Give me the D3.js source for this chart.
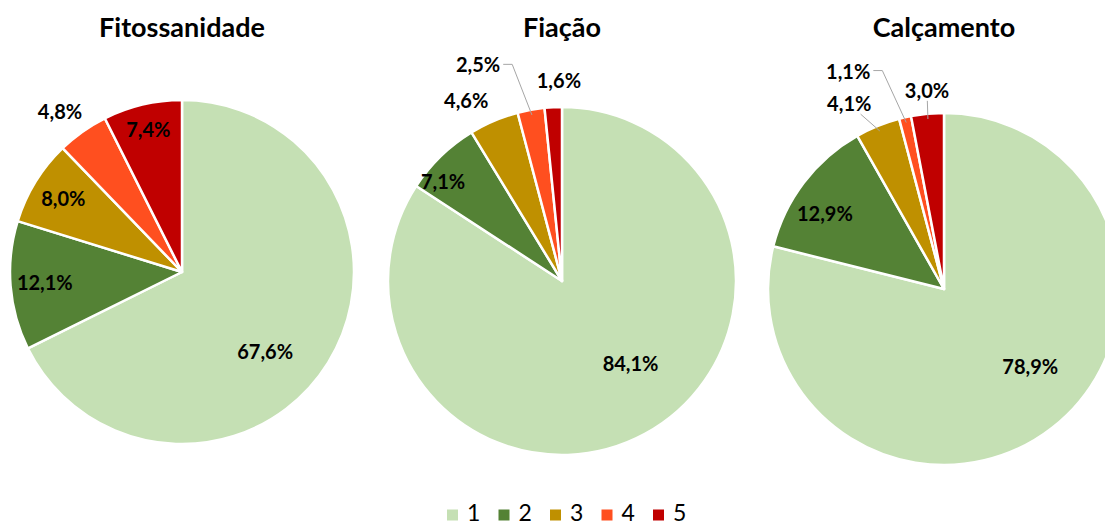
<!DOCTYPE html>
<html>
<head>
<meta charset="utf-8">
<script src="https://cdn.jsdelivr.net/npm/d3@7"></script>
<style>
  body { margin: 0; background: #fff; }
  svg { display: block; font-family: Lato, "Open Sans", sans-serif; }
</style>
</head>
<body>
<div id="chart"></div>
<script>
// data
var categories = ["1", "2", "3", "4", "5"];
var titles = ["Fitossanidade", "Fiação", "Calçamento"];
var fitossanidade = [67.6, 12.1, 8.0, 4.8, 7.4];
var fiacao = [84.1, 7.1, 4.6, 2.5, 1.6];
var calcamento = [78.9, 12.9, 4.1, 1.1, 3.0];
var series = [fitossanidade, fiacao, calcamento];

var colors = ["#c5e0b4", "#548235", "#bf9000", "#ff4f1f", "#c00000"];

// pie placement
var pies = [
  { cx: 182, cy: 272, r: 172 },
  { cx: 562, cy: 281, r: 174 },
  { cx: 944, cy: 289, r: 176 }
];

// label placement: [angle nudge in degrees, radius fraction, leader]
var labelLayout = [
  [[12, 0.67], [0, 0.8], [0, 0.81], [-2, 1.17], [0, 0.85]],
  [[-11, 0.62], [-6, 0.89], [-5, 1.17], [-11, 1.33, "elbow"], [2, 1.15]],
  [[-10, 0.66], [-5, 0.8], [-5, 1.18, "direct"], [-11, 1.35, "elbow"], [0.5, 1.13, "direct"]]
];

var width = 1105, height = 526;

var svg = d3.select("#chart").append("svg")
  .attr("width", width)
  .attr("height", height);

var pie = d3.pie().sort(null).value(function(d) { return d; });
var fmt = function(v) { return d3.format(".1f")(v).replace(".", ",") + "%"; };

function polar(cx, cy, r, a) {
  return [cx + r * Math.sin(a), cy - r * Math.cos(a)];
}

series.forEach(function(values, i) {
  var p = pies[i];
  var arc = d3.arc().innerRadius(0).outerRadius(p.r);
  var g = svg.append("g");

  g.append("text")
    .attr("x", p.cx)
    .attr("y", 28)
    .attr("dy", "0.35em")
    .attr("text-anchor", "middle")
    .style("font-size", "27px")
    .style("font-weight", "bold")
    .style("fill", "#000")
    .text(titles[i]);

  var arcs = pie(values);

  g.append("g")
    .attr("transform", "translate(" + p.cx + "," + p.cy + ")")
    .selectAll("path")
    .data(arcs)
    .enter().append("path")
    .attr("d", arc)
    .attr("fill", function(d, j) { return colors[j]; })
    .attr("stroke", "#fff")
    .attr("stroke-width", 2.5)
    .attr("stroke-linejoin", "round");

  arcs.forEach(function(d, j) {
    var lay = labelLayout[i][j];
    var mid = (d.startAngle + d.endAngle) / 2;
    var a = mid + lay[0] * Math.PI / 180;
    var pos = polar(p.cx, p.cy, p.r * lay[1], a);

    var t = g.append("text")
      .attr("x", pos[0])
      .attr("y", pos[1])
      .attr("dy", "0.35em")
      .attr("text-anchor", "middle")
      .style("font-size", "20px")
      .style("font-weight", "bold")
      .style("fill", "#000")
      .text(fmt(d.value));

    if (lay[2]) {
      var bb = t.node().getBBox();
      var edge = polar(p.cx, p.cy, p.r * 0.97, mid);
      var pts;
      if (lay[2] === "elbow") {
        var y0 = bb.y + bb.height / 2;
        pts = [[bb.x + bb.width + 3, y0], [bb.x + bb.width + 12, y0], edge];
      } else {
        // clip the line at the label box
        var dx = edge[0] - pos[0], dy = edge[1] - pos[1];
        var hw = bb.width / 2 + 2, hh = bb.height / 2 - 2;
        var s = Math.min(dx !== 0 ? hw / Math.abs(dx) : Infinity, dy !== 0 ? hh / Math.abs(dy) : Infinity);
        pts = [[pos[0] + dx * s, pos[1] + dy * s], edge];
      }
      g.append("path")
        .attr("d", d3.line()(pts))
        .attr("fill", "none")
        .attr("stroke", "#a6a6a6")
        .attr("stroke-width", 1);
    }
  });
});

// legend
var legend = svg.append("g")
  .attr("transform", "translate(447, 515)");

var item = legend.selectAll("g")
  .data(categories)
  .enter().append("g")
  .attr("transform", function(d, j) { return "translate(" + (j * 51.5) + ",0)"; });

item.append("rect")
  .attr("x", 0)
  .attr("y", -5.5)
  .attr("width", 11)
  .attr("height", 11)
  .attr("fill", function(d, j) { return colors[j]; });

item.append("text")
  .attr("x", 20)
  .attr("y", 6)
  .style("font-size", "23px")
  .style("fill", "#000")
  .text(function(d) { return d; });
</script>
</body>
</html>
